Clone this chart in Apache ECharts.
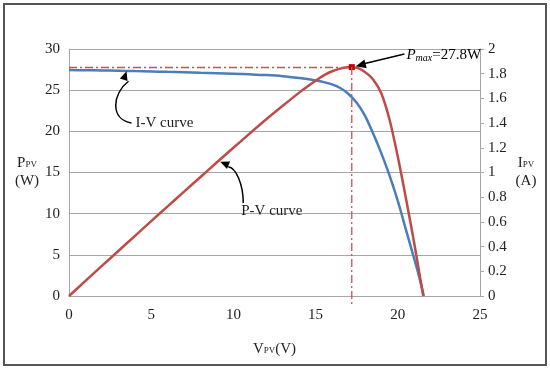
<!DOCTYPE html>
<html><head><meta charset="utf-8">
<script src="https://cdn.jsdelivr.net/npm/echarts@6/dist/echarts.min.js"></script>
<style>html,body{margin:0;padding:0;background:#fff}#c{width:550px;height:369px}</style>
</head><body><div id="c"></div>
<script>
// I-V curve: voltage (V) and current (A), right axis
const ivVoltage = [0, 1, 2, 3, 4, 5, 6, 7, 8, 9, 10, 11, 12, 13, 14, 14.5, 15, 15.5, 16, 16.5, 17, 17.5, 18, 18.5, 19, 19.5, 20, 20.5, 21, 21.3, 21.58];
const ivCurrent = [1.830, 1.828, 1.826, 1.824, 1.821, 1.818, 1.815, 1.812, 1.808, 1.804, 1.800, 1.795, 1.789, 1.780, 1.766, 1.757, 1.745, 1.732, 1.714, 1.684, 1.636, 1.565, 1.46, 1.315, 1.155, 0.975, 0.77, 0.535, 0.30, 0.155, 0];
// P-V curve: voltage (V) and power (W), left axis
const pvVoltage = [0, 1, 2, 3, 4, 5, 6, 7, 8, 9, 10, 11, 12, 13, 14, 14.5, 15, 15.5, 16, 16.5, 17, 17.5, 18, 18.5, 19, 19.5, 20, 20.5, 21, 21.3, 21.55];
const pvPower = [0, 1.83, 3.65, 5.47, 7.28, 9.09, 10.89, 12.68, 14.46, 16.24, 18.0, 19.75, 21.47, 23.1, 24.7, 25.45, 26.15, 26.8, 27.3, 27.62, 27.78, 27.72, 27.2, 26.3, 24.6, 21.4, 16.9, 11.8, 6.4, 2.9, 0];
const pmax = {v: 17.2, p: 27.8};
const xTicks = [0, 25, 5];
const leftTicks = [0, 30, 5];
const rightTicks = [0, 2, 0.2];

const serif = 'Liberation Serif';
const chart = echarts.init(document.getElementById('c'));
const ivData = ivVoltage.map((v, i) => [v, ivCurrent[i]]);
const pvData = pvVoltage.map((v, i) => [v, pvPower[i]]);

chart.setOption({
  animation: false,
  grid: {left: 69, right: 70, top: 49, bottom: 73},
  xAxis: {
    type: 'value', min: xTicks[0], max: xTicks[1], interval: xTicks[2],
    axisLine: {lineStyle: {color: '#a6a6a6', width: 1}},
    axisTick: {show: false}, splitLine: {show: false},
    axisLabel: {color: '#222', fontFamily: serif, fontSize: 15, margin: 12},
    name: '{b|V}{s|PV}{b|(V)}', nameLocation: 'middle', nameGap: 46,
    nameTextStyle: {rich: {b: {fontFamily: serif, fontSize: 15, color: '#222'}, s: {fontFamily: serif, fontSize: 9, color: '#222', padding: [3, 0, 0, 0]}}}
  },
  yAxis: [{
    type: 'value', min: leftTicks[0], max: leftTicks[1], interval: leftTicks[2],
    axisLine: {show: true, lineStyle: {color: '#a6a6a6'}},
    axisTick: {show: false},
    splitLine: {lineStyle: {color: '#a6a6a6', width: 1}},
    axisLabel: {color: '#222', fontFamily: serif, fontSize: 15, margin: 9},
    name: '{b|P}{s|PV}\n{b|(W)}', nameLocation: 'middle', nameRotate: 0, nameGap: 42,
    nameTextStyle: {align: 'center', rich: {b: {fontFamily: serif, fontSize: 15, color: '#222', lineHeight: 18}, s: {fontFamily: serif, fontSize: 9, color: '#222', padding: [3, 0, 0, 0]}}}
  }, {
    type: 'value', min: rightTicks[0], max: rightTicks[1], interval: rightTicks[2],
    position: 'right',
    axisLine: {show: true, lineStyle: {color: '#a6a6a6'}},
    axisTick: {show: true, length: 4, lineStyle: {color: '#a6a6a6'}},
    splitLine: {show: false},
    axisLabel: {color: '#222', fontFamily: serif, fontSize: 15, margin: 8},
    name: '{b|I}{s|PV}\n{b|(A)}', nameLocation: 'middle', nameRotate: 0, nameGap: 46,
    nameTextStyle: {align: 'center', rich: {b: {fontFamily: serif, fontSize: 15, color: '#222', lineHeight: 18}, s: {fontFamily: serif, fontSize: 9, color: '#222', padding: [3, 0, 0, 0]}}}
  }],
  series: [{
    name: 'I-V', type: 'line', yAxisIndex: 1, data: ivData, smooth: 0.3, showSymbol: false,
    lineStyle: {color: '#4A7EBB', width: 2.5}, z: 3
  }, {
    name: 'P-V', type: 'line', yAxisIndex: 0, data: pvData, smooth: 0.3, showSymbol: false,
    lineStyle: {color: '#BE4B48', width: 2.5}, z: 4,
    markLine: {
      silent: true, symbol: 'none', animation: false,
      lineStyle: {color: '#D0504D', type: [8, 3, 2, 3], width: 1.3},
      label: {show: false},
      data: [
        [{coord: [0, pmax.p]}, {coord: [pmax.v, pmax.p]}]
      ]
    },
    markPoint: {
      symbol: 'rect', symbolSize: 6, itemStyle: {color: '#C00000'}, label: {show: false},
      data: [{coord: [pmax.v, pmax.p]}]
    }
  }]
});

function px(v, p) { return chart.convertToPixel({xAxisIndex: 0, yAxisIndex: 0}, [v, p]); }
function arrowHead(tip, from, size) {
  const dx = tip[0] - from[0], dy = tip[1] - from[1];
  const L = Math.hypot(dx, dy), ux = dx / L, uy = dy / L;
  const bx = tip[0] - ux * size, by = tip[1] - uy * size;
  const w = size * 0.45;
  return {type: 'polygon', shape: {points: [tip, [bx - uy * w, by + ux * w], [bx + uy * w, by - ux * w]]}, style: {fill: '#000'}, z: 20};
}
// annotation anchors in data units (V, W)
const ivTip = px(3.5, 27.3), ivStart = px(3.8, 21.0);
const pvTip = px(9.2, 16.3), pvStart = px(10.6, 11.3);
const pmTip = px(pmax.v + 0.25, pmax.p + 0.1), pmStart = px(20.4, 29.4);
const peak = px(pmax.v, pmax.p), vBottom = px(pmax.v, 0);
const graphics = [
  {type: 'rect', shape: {x: 4, y: 4, width: 542, height: 361}, style: {fill: 'none', stroke: '#555', lineWidth: 2}, z: 0},
  {type: 'line', shape: {x1: peak[0], y1: peak[1], x2: vBottom[0], y2: vBottom[1] + 8}, style: {stroke: '#D0504D', lineWidth: 1.3, lineDash: [8, 3, 2, 3]}, z: 5},
  {type: 'bezierCurve', shape: {x1: ivStart[0], y1: ivStart[1], x2: ivTip[0] + 2, y2: ivTip[1] + 10,
     cpx1: ivStart[0] - 22, cpy1: ivStart[1] - 4, cpx2: ivTip[0] - 14, cpy2: ivTip[1] + 22}, style: {stroke: '#000', lineWidth: 1.5, fill: 'none'}, z: 20},
  arrowHead(ivTip, [ivTip[0] - 4, ivTip[1] + 12], 9),
  {type: 'bezierCurve', shape: {x1: pvStart[0], y1: pvStart[1], x2: pvTip[0] + 8, y2: pvTip[1] + 5,
     cpx1: pvStart[0], cpy1: pvStart[1] - 18, cpx2: pvTip[0] + 16, cpy2: pvTip[1] + 6}, style: {stroke: '#000', lineWidth: 1.5, fill: 'none'}, z: 20},
  arrowHead(pvTip, [pvTip[0] + 12, pvTip[1] + 5], 9),
  {type: 'line', shape: {x1: pmStart[0], y1: pmStart[1], x2: pmTip[0] + 6, y2: pmTip[1] - 2}, style: {stroke: '#000', lineWidth: 1.5}, z: 20},
  arrowHead(pmTip, pmStart, 10),
  {type: 'text', x: ivStart[0] + 4, y: ivStart[1], style: {text: 'I-V curve', font: '15px "Liberation Serif"', fill: '#222', textVerticalAlign: 'middle'}, z: 20},
  {type: 'text', x: pvStart[0] - 2, y: pvStart[1] + 8, style: {text: 'P-V curve', font: '15px "Liberation Serif"', fill: '#222', textVerticalAlign: 'middle'}, z: 20},
  {type: 'text', x: pmStart[0] + 2, y: pmStart[1] + 1, style: {
     text: '{i|P}{m|max}{n|=27.8W}', textVerticalAlign: 'middle',
     rich: {i: {fontFamily: serif, fontStyle: 'italic', fontSize: 15, color: '#222'},
            m: {fontFamily: serif, fontStyle: 'italic', fontSize: 10, color: '#222', padding: [6, 0, 0, 0]},
            n: {fontFamily: serif, fontSize: 15, color: '#222'}}}, z: 20}
];
chart.setOption({graphic: graphics});
</script>
</body></html>
